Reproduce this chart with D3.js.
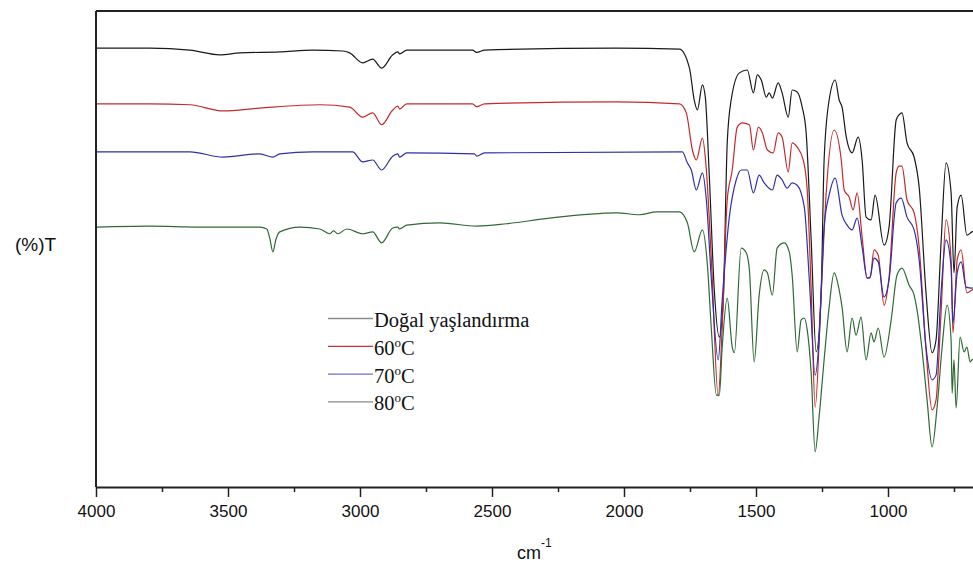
<html>
<script src='https://d3js.org/d3.v7.min.js'></script>
<style>
body {margin: 0; background: #fff;}
.trace {fill: none; stroke-width: 1.2;}
.axis text {font-family: "Liberation Sans", Arial, sans-serif; font-size: 17px; fill: #111;}
.axis path, .axis line {stroke: #222;}
</style>
<body onload='init()'>
<svg width=973 height=569></svg>
<script>
// wavenumber (cm-1), transmittance (arbitrary %, traces offset)
var dogal = [[4000,92.2],[3796,92.2],[3644,91.8],[3531,90.8],[3455,91.2],[3304,91.4],[3179,91.8],[3065,91.6],
  [3039,91.2],[2990,89.1],[2952,89.9],[2918,88.0],[2876,90.8],[2857,91.4],[2850,91.0],[2823,91.8],[2574,91.8],
  [2558,91.3],[2528,91.8],[2029,92.2],[1790,92.0],[1752,88.0],[1734,81.3],[1722,79.2],[1703,84.5],[1692,81.9],
  [1677,65.5],[1658,41.4],[1639,31.5],[1624,39.3],[1609,72.3],[1594,81.3],[1563,87.0],[1533,87.6],[1510,82.8],
  [1495,86.6],[1480,85.5],[1461,81.9],[1450,82.8],[1438,81.7],[1416,84.9],[1401,82.8],[1378,77.7],[1363,83.4],
  [1344,83.0],[1325,79.8],[1310,74.4],[1291,51.9],[1272,28.4],[1253,41.4],[1242,68.7],[1223,81.3],[1200,85.5],
  [1185,81.3],[1174,79.8],[1158,73.5],[1136,70.2],[1113,73.5],[1098,68.7],[1083,56.7],[1064,56.1],[1049,61.3],
  [1015,50.8],[996,54.6],[969,77.1],[958,78.2],[947,78.6],[928,72.3],[901,69.3],[882,63.0],[856,40.8],[833,28.2],
  [818,30.9],[799,51.3],[780,68.1],[761,61.8],[750,45.0],[738,58.8],[723,61.3],[701,52.9],[682,53.6],[660,54.0]];

var t60 = [[4000,80.5],[3796,80.5],[3644,80.3],[3519,79.0],[3380,79.6],[3152,80.3],[3039,79.8],[2990,77.7],
  [2952,78.6],[2918,76.1],[2876,79.2],[2857,80.0],[2850,79.4],[2823,80.5],[2574,80.5],[2558,79.9],[2528,80.5],
  [2029,80.9],[1790,80.5],[1764,78.6],[1741,70.8],[1726,68.7],[1703,73.3],[1688,66.6],[1669,47.7],[1643,19.1],
  [1628,33.6],[1609,60.3],[1590,66.6],[1571,75.6],[1552,76.5],[1525,76.1],[1510,70.8],[1491,75.6],[1476,74.4],
  [1457,70.8],[1435,70.2],[1416,74.4],[1401,73.5],[1378,66.2],[1363,72.3],[1344,71.4],[1321,68.7],[1306,62.4],
  [1291,41.4],[1276,16.8],[1253,40.8],[1234,61.8],[1204,75.0],[1177,68.7],[1166,62.4],[1147,60.9],[1132,58.2],
  [1117,61.8],[1098,52.5],[1079,43.9],[1068,43.9],[1053,49.8],[1037,48.7],[1015,38.2],[996,44.1],[969,66.0],
  [958,67.4],[947,67.4],[928,60.3],[901,57.6],[882,50.4],[856,28.8],[833,16.2],[818,18.3],[799,36.6],[780,56.1],
  [761,47.7],[754,32.4],[738,47.7],[723,49.8],[701,40.8],[682,41.4],[660,42.0]];

var t70 = [[4000,70.4],[3644,70.4],[3519,69.3],[3380,70.0],[3330,69.3],[3304,70.0],[3179,70.4],[3028,70.4],
  [2990,68.3],[2952,68.7],[2918,66.6],[2876,69.5],[2857,70.0],[2850,69.3],[2823,70.2],[2566,70.0],[2558,69.5],
  [2528,70.2],[1779,70.4],[1760,68.1],[1745,66.6],[1726,62.4],[1703,66.0],[1688,60.3],[1669,43.5],[1643,26.7],
  [1628,39.3],[1601,56.7],[1575,64.5],[1556,66.6],[1533,66.6],[1510,61.8],[1488,65.5],[1469,63.9],[1438,62.4],
  [1420,65.5],[1401,64.5],[1382,62.8],[1363,63.9],[1344,63.4],[1317,58.8],[1298,43.5],[1276,23.5],[1261,30.9],
  [1242,54.6],[1223,61.3],[1200,64.9],[1174,57.1],[1155,55.0],[1136,54.0],[1117,56.5],[1098,50.4],[1079,43.9],
  [1068,44.1],[1053,48.1],[1037,47.3],[1015,39.9],[996,43.5],[969,59.7],[950,60.7],[928,56.7],[901,54.0],
  [882,47.7],[856,29.4],[833,22.5],[818,23.5],[799,40.8],[780,51.9],[761,46.2],[754,34.5],[738,45.0],[723,47.3],
  [704,42.0],[682,41.8],[660,42.2]];

var t80 = [[4000,54.6],[3796,54.8],[3607,54.6],[3455,54.6],[3380,54.6],[3353,54.2],[3342,52.3],[3330,49.4],
  [3319,51.9],[3304,53.6],[3228,54.6],[3152,54.2],[3115,53.2],[3100,53.8],[3084,53.2],[3050,54.2],[2990,53.2],
  [2952,53.6],[2918,51.3],[2876,54.4],[2857,54.6],[2850,54.2],[2823,55.0],[2698,55.5],[2558,54.8],[2445,55.3],
  [2282,56.5],[2029,57.6],[1942,57.2],[1877,57.8],[1790,57.8],[1760,55.5],[1734,49.4],[1703,54.0],[1684,46.6],
  [1669,33.0],[1650,19.3],[1639,19.3],[1628,29.4],[1609,39.7],[1590,29.4],[1582,28.2],[1556,50.2],[1537,49.2],
  [1525,45.6],[1507,26.3],[1488,40.3],[1469,45.6],[1457,45.0],[1438,40.3],[1420,50.2],[1393,51.3],[1374,49.4],
  [1363,44.5],[1344,28.4],[1329,35.1],[1317,35.5],[1306,33.0],[1291,23.9],[1276,7.4],[1261,14.7],[1242,26.7],
  [1223,37.8],[1204,45.0],[1185,41.4],[1174,37.8],[1155,28.4],[1136,35.5],[1121,31.9],[1102,35.7],[1083,26.7],
  [1064,32.4],[1053,30.5],[1037,33.4],[1015,27.3],[988,35.1],[966,44.5],[947,46.0],[920,42.4],[901,40.3],
  [890,37.2],[871,28.8],[852,18.3],[833,8.4],[814,16.8],[795,29.4],[776,38.2],[761,30.9],[757,19.7],[750,26.7],
  [742,16.6],[727,31.5],[712,28.4],[701,29.4],[689,26.3],[682,26.7],[660,27.0]];

var seriesNames = ["Doğal yaşlandırma", "60", "70", "80"];
var majorTicks = [4000, 3500, 3000, 2500, 2000, 1500, 1000];
var minorTicks = [3750, 3250, 2750, 2250, 1750, 1250, 750];

var traceColors = ["#1a1a1a", "#c42a2a", "#2f2fa8", "#2f6a35"];
var legendColors = ["#8a8a8a", "#c8323a", "#7070c8", "#8a8a8a"];

function init() {
  var svg = d3.select("svg");
  var left = 96, top = 11, bottom = 487;

  var x = d3.scaleLinear().domain([4000, 650]).range([left, left + 3350 * 132 / 500]);
  var y = d3.scaleLinear().domain([0, 100]).range([bottom, top]);

  var line = d3.line()
      .x(function(d){ return x(d[0]); })
      .y(function(d){ return y(d[1]); })
      .curve(d3.curveMonotoneX);

  [dogal, t60, t70, t80].forEach(function(s, i) {
    svg.append("path").attr("class", "trace")
       .attr("d", line(s))
       .attr("stroke", traceColors[i]);
  });

  // frame: top and left
  svg.append("line").attr("x1", left).attr("x2", 973).attr("y1", top).attr("y2", top)
     .attr("stroke", "#222").attr("stroke-width", 2);
  svg.append("line").attr("x1", left).attr("x2", left).attr("y1", top).attr("y2", bottom)
     .attr("stroke", "#222").attr("stroke-width", 2);

  // minor ticks
  svg.append("g").attr("class", "axis")
     .attr("transform", "translate(0," + bottom + ")")
     .call(d3.axisBottom(x).tickValues(minorTicks).tickSize(5).tickFormat(""))
     .call(function(g){ g.select(".domain").remove(); })
     .selectAll("line").attr("stroke-width", 1.5);

  var ax = svg.append("g").attr("class", "axis")
     .attr("transform", "translate(0," + bottom + ")")
     .call(d3.axisBottom(x).tickValues(majorTicks).tickSizeInner(10).tickSizeOuter(0).tickPadding(8).tickFormat(d3.format("d")));
  ax.select(".domain").attr("stroke-width", 2);
  ax.selectAll("line").attr("stroke-width", 1.5);

  // axis titles
  var xt = svg.append("text").attr("x", 517).attr("y", 559)
     .attr("font-family", "Liberation Sans, Arial, sans-serif").attr("font-size", 18).attr("fill", "#111")
     .text("cm");
  xt.append("tspan").attr("font-size", 12).attr("dy", -12).text("-1");

  svg.append("text").attr("x", 15).attr("y", 251)
     .attr("font-family", "Liberation Sans, Arial, sans-serif").attr("font-size", 19).attr("fill", "#111")
     .text("(%)T");

  // legend
  var lg = svg.append("g").attr("font-family", "Liberation Serif, Times New Roman, serif")
     .attr("font-size", 20.5).attr("fill", "#111");
  seriesNames.forEach(function(name, i) {
    var by = 327 + i * 27.8;
    lg.append("line").attr("x1", 328).attr("x2", 373).attr("y1", by - 8.5).attr("y2", by - 8.5)
      .attr("stroke", legendColors[i]).attr("stroke-width", 1.3);
    var t = lg.append("text").attr("x", 374).attr("y", by);
    if (i === 0) {
      t.text(name);
    } else {
      t.append("tspan").text(name);
      t.append("tspan").attr("font-size", 13).attr("dy", -8).text("o");
      t.append("tspan").attr("dy", 8).text("C");
    }
  });
}
</script>
</body>
</html>
